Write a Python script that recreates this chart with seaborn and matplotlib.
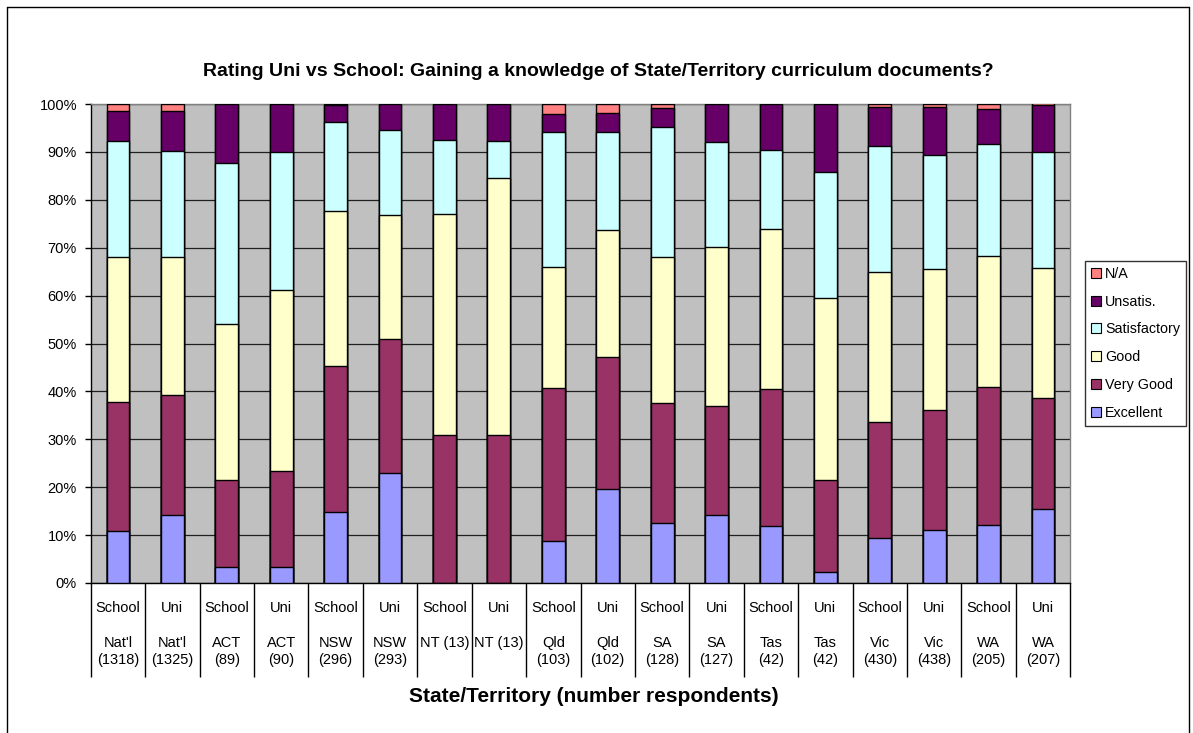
import numpy as np
import pandas as pd
import matplotlib
matplotlib.use("Agg")
import matplotlib.pyplot as plt
from matplotlib.patches import Patch
import seaborn as sns

# ---- data (percentages per segment) ----
groups = ["School", "Uni"] * 9
states = ["Nat'l\n(1318)", "Nat'l\n(1325)", "ACT\n(89)", "ACT\n(90)", "NSW\n(296)", "NSW\n(293)",
          "NT (13)\n", "NT (13)\n", "Qld\n(103)", "Qld\n(102)", "SA\n(128)", "SA\n(127)",
          "Tas\n(42)", "Tas\n(42)", "Vic\n(430)", "Vic\n(438)", "WA\n(205)", "WA\n(207)"]
excellent    = [10.9, 14.3, 3.4, 3.3, 14.9, 22.9, 0.0, 0.0, 8.7, 19.6, 12.5, 14.2, 11.9, 2.4, 9.3, 11.0, 12.2, 15.5]
very_good    = [26.9, 24.9, 18.0, 20.0, 30.4, 28.0, 30.8, 30.8, 32.0, 27.5, 25.0, 22.8, 28.6, 19.0, 24.4, 25.1, 28.8, 23.2]
good         = [30.3, 28.9, 32.6, 37.8, 32.4, 25.9, 46.2, 53.8, 25.2, 26.5, 30.5, 33.1, 33.3, 38.1, 31.2, 29.5, 27.3, 27.1]
satisfactory = [24.1, 22.1, 33.7, 28.9, 18.6, 17.7, 15.4, 7.7, 28.2, 20.6, 27.3, 22.0, 16.7, 26.2, 26.3, 23.7, 23.4, 24.2]
unsatis      = [6.4, 8.4, 12.3, 10.0, 3.4, 5.5, 7.6, 7.7, 3.9, 3.9, 3.9, 7.9, 9.5, 14.3, 8.1, 10.0, 7.3, 9.7]
na           = [1.4, 1.4, 0.0, 0.0, 0.3, 0.0, 0.0, 0.0, 1.9, 2.0, 0.8, 0.0, 0.0, 0.0, 0.7, 0.7, 1.0, 0.5]
series_names = ["Excellent", "Very Good", "Good", "Satisfactory", "Unsatis.", "N/A"]
colors = ["#9999FF", "#993366", "#FFFFCC", "#CCFFFF", "#660066", "#FF8080"]

labels = [f"{g}\n\n{s}" for g, s in zip(groups, states)]
keys = [f"k{i}" for i in range(len(labels))]
df = pd.DataFrame({"key": keys, "Excellent": excellent, "Very Good": very_good, "Good": good,
                   "Satisfactory": satisfactory, "Unsatis.": unsatis, "N/A": na})
cum = df[series_names].cumsum(axis=1)
cum["key"] = keys

sns.set_style("white")
plt.rcParams["font.family"] = ["Liberation Sans", "DejaVu Sans"]
plt.rcParams["text.color"] = "black"
plt.rcParams["xtick.color"] = "black"
plt.rcParams["ytick.color"] = "black"
plt.rcParams["xtick.labelcolor"] = "black"
plt.rcParams["ytick.labelcolor"] = "black"

fig = plt.figure(figsize=(11.93, 7.33), dpi=100)
W, H = 1193, 733
x0, x1, y0, y1 = 90.8, 1070.2, 104, 583
ax = fig.add_axes([x0 / W, 1 - y1 / H, (x1 - x0) / W, (y1 - y0) / H])
ax.set_facecolor("#C0C0C0")

# draw cumulative bars from top segment down
for name, col in reversed(list(zip(series_names, colors))):
    sns.barplot(data=cum, x="key", y=name, order=keys, color=col, width=0.42,
                edgecolor="black", linewidth=1.0, errorbar=None, ax=ax, zorder=3,
                saturation=1)

ax.set_ylim(0, 100)
ax.set_xlim(-0.5, len(keys) - 0.5)
ax.set_yticks(np.arange(0, 101, 10))
ax.set_yticklabels([f"{v}%" for v in range(0, 101, 10)], fontsize=10.5)
ax.yaxis.grid(True, color="#202020", linewidth=0.9, zorder=0)
ax.set_axisbelow(True)
ax.tick_params(axis="y", left=True, direction="out", length=4, width=1, color="black", pad=6)

ax.set_xticks(np.arange(len(keys)))
ax.set_xticklabels(labels, fontsize=10.5, linespacing=1.3)
ax.tick_params(axis="x", which="major", bottom=True, length=0, pad=13)
ax.set_xticks(np.arange(-0.5, len(keys), 1.0), minor=True)
ax.tick_params(axis="x", which="minor", bottom=True, direction="out", length=67.5, width=1, color="black")
ax.set_xlabel("")
ax.set_ylabel("")

for s in ["left", "bottom"]:
    ax.spines[s].set_color("black")
    ax.spines[s].set_linewidth(1)
for s in ["top", "right"]:
    ax.spines[s].set_color("#808080")
    ax.spines[s].set_linewidth(1)

fig.text(598 / W, 1 - 72 / H, "Rating Uni vs School: Gaining a knowledge of State/Territory curriculum documents?",
         ha="center", va="center", fontsize=14, fontweight="bold")
fig.text(594 / W, 1 - 697 / H, "State/Territory (number respondents)",
         ha="center", va="center", fontsize=15, fontweight="bold")

handles = [Patch(facecolor=c, edgecolor="black", linewidth=0.8, label=n)
           for n, c in zip(series_names, colors)][::-1]
leg = fig.legend(handles=handles, loc="upper left", bbox_to_anchor=(1085 / W, 1 - 261 / H),
                 fontsize=10.3, frameon=True, fancybox=False, edgecolor="black",
                 handlelength=0.7, handleheight=0.7, handletextpad=0.3, labelspacing=0.97,
                 borderpad=0.4, borderaxespad=0)
leg.get_frame().set_linewidth(1)

# outer chart border
for xs, ys in [([7, 7], [7, 733]), ([7, 1189], [7, 7]), ([1189, 1189], [7, 733])]:
    fig.add_artist(plt.Line2D([x / W for x in xs], [1 - y / H for y in ys], color="black", linewidth=1))

fig.savefig("out.png", dpi=100)
